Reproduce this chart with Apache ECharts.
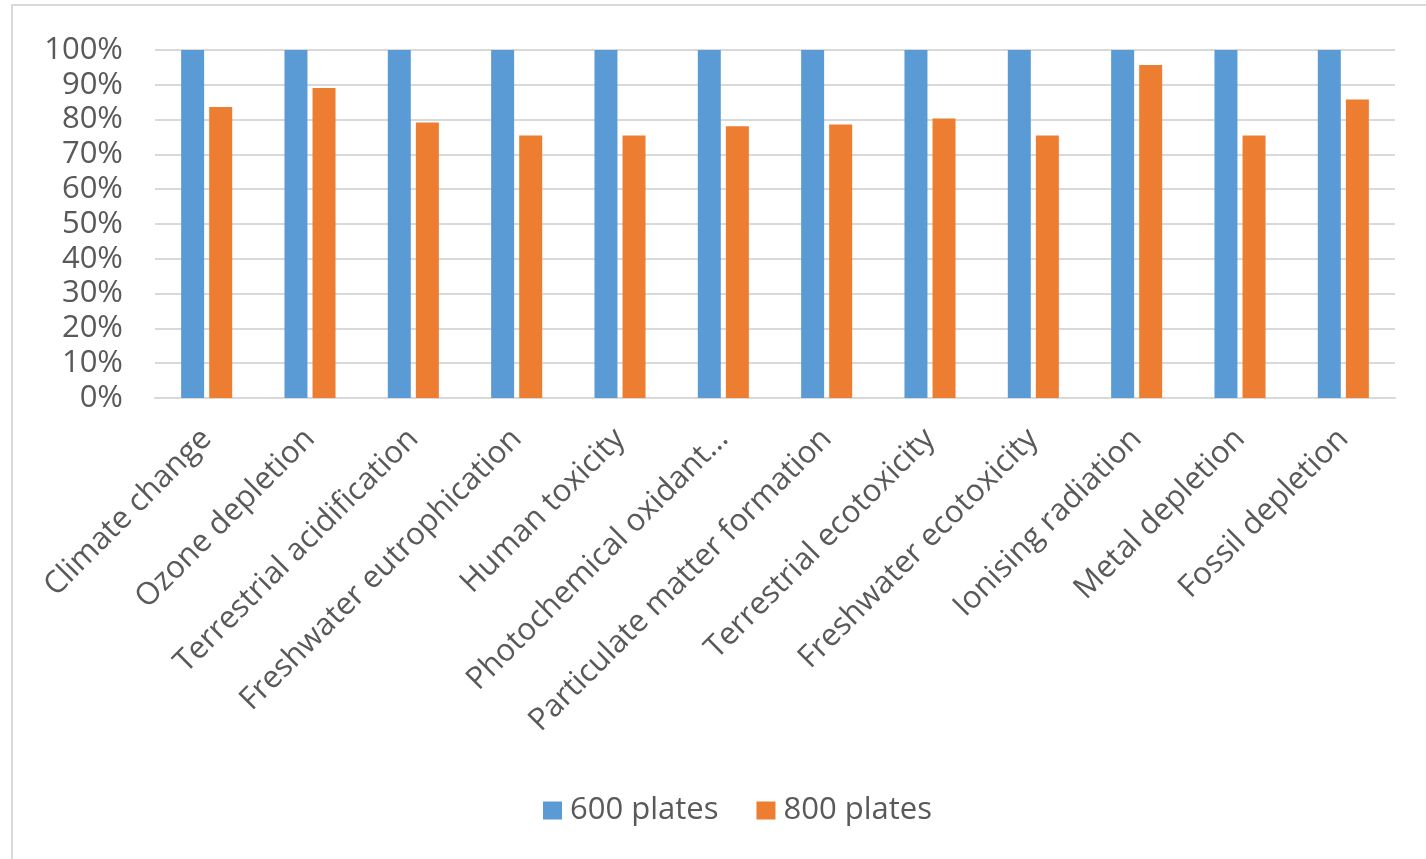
<!DOCTYPE html>
<html>
<head>
<meta charset="utf-8">
<script src="https://cdn.jsdelivr.net/npm/echarts@6/dist/echarts.min.js"></script>
<style>
html,body{margin:0;padding:0;background:#fff;}
#chart{width:1426px;height:859px;}
</style>
</head>
<body>
<div id="chart"></div>
<script>
var categories = ["Climate change","Ozone depletion","Terrestrial acidification","Freshwater eutrophication","Human toxicity","Photochemical oxidant...","Particulate matter formation","Terrestrial ecotoxicity","Freshwater ecotoxicity","Ionising radiation","Metal depletion","Fossil depletion"];
var plates600 = [100,100,100,100,100,100,100,100,100,100,100,100];
var plates800 = [83.6,89.1,79.2,75.4,75.4,78.1,78.6,80.3,75.4,95.7,75.4,85.8];
var yTicks = [0,10,20,30,40,50,60,70,80,90,100];
var seriesNames = ["600 plates","800 plates"];

var textColor = '#595959';
var fontFam = '"Open Sans", "Noto Sans", sans-serif';
var chart = echarts.init(document.getElementById('chart'));
chart.setOption({
  animation:false,
  backgroundColor:'#ffffff',
  graphic:[{type:'rect',shape:{x:12,y:5,width:1430,height:870},style:{fill:'none',stroke:'#d9d9d9',lineWidth:2}}],
  grid:{left:155,right:31,top:50,bottom:461,containLabel:false},
  legend:{
    data:seriesNames,top:790,left:538,itemWidth:19,itemHeight:18,itemGap:38,
    icon:'rect',
    textStyle:{color:textColor,fontSize:31,fontFamily:fontFam,padding:[0,0,0,3]}
  },
  xAxis:{
    type:'category',data:categories,
    axisLine:{show:true,lineStyle:{color:'#d9d9d9',width:2}},
    axisTick:{show:false},
    axisLabel:{rotate:45,interval:0,margin:36,color:textColor,fontSize:31,fontFamily:fontFam}
  },
  yAxis:{
    type:'value',min:yTicks[0],max:yTicks[yTicks.length-1],interval:10,
    axisLine:{show:false},axisTick:{show:false},
    splitLine:{lineStyle:{color:'#d9d9d9',width:2}},
    axisLabel:{formatter:'{value}%',color:textColor,fontSize:31,fontFamily:fontFam,margin:32}
  },
  series:[
    {name:seriesNames[0],type:'bar',data:plates600,barWidth:23,barGap:'22%',itemStyle:{color:'#5b9bd5'}},
    {name:seriesNames[1],type:'bar',data:plates800,barWidth:23,barGap:'22%',itemStyle:{color:'#ed7d31'}}
  ]
});
</script>
</body>
</html>
